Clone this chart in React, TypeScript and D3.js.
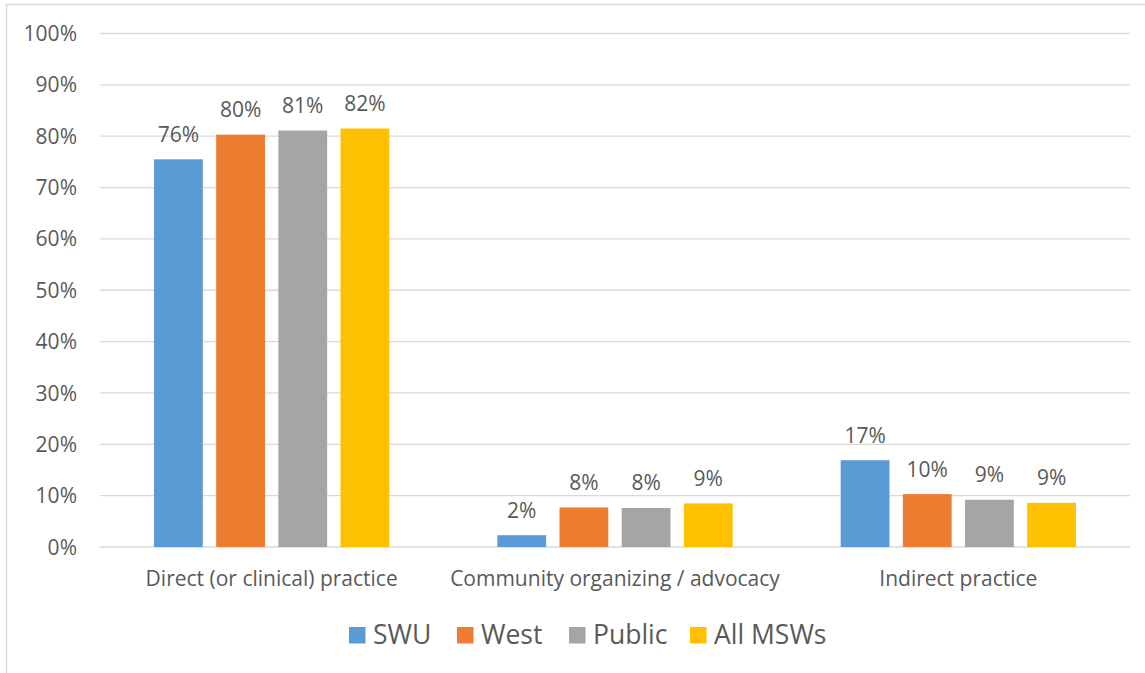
import React from "react";
import * as d3 from "d3";

const categories = ["Direct (or clinical) practice", "Community organizing / advocacy", "Indirect practice"];
const seriesNames = ["SWU", "West", "Public", "All MSWs"];
const seriesColors = ["#5B9BD5", "#ED7D31", "#A5A5A5", "#FFC000"];
const swu = [75.5, 2.3, 16.9];
const west = [80.3, 7.7, 10.3];
const pub = [81.1, 7.6, 9.2];
const allMsw = [81.5, 8.5, 8.6];
const labelsSwu = ["76%", "2%", "17%"];
const labelsWest = ["80%", "8%", "10%"];
const labelsPub = ["81%", "8%", "9%"];
const labelsAll = ["82%", "9%", "9%"];
const yTicks = [0, 10, 20, 30, 40, 50, 60, 70, 80, 90, 100];

const W = 1145, H = 673;
const FONT = "'Open Sans', 'Noto Sans', sans-serif";
const TXT = "#595959";

export default function App() {
  const left = 100, right = 1130, top = 33.5, bottom = 547;
  const x0 = d3.scaleBand().domain(categories).range([left, right]).paddingInner(0).paddingOuter(0);
  const groupInner = 54 / 343.3;
  const x1 = d3.scaleBand().domain(seriesNames)
    .range([x0.bandwidth() * groupInner, x0.bandwidth() * (1 - groupInner)])
    .paddingInner(0.215).paddingOuter(0);
  const y = d3.scaleLinear().domain([0, 100]).range([bottom, top]);
  const data = [swu, west, pub, allMsw];
  const labels = [labelsSwu, labelsWest, labelsPub, labelsAll];

  const legendX = [349, 457, 569, 690];

  return (
    <svg width={W} height={H} style={{ position: "absolute", left: 0, top: 0, background: "#fff" }} fontFamily={FONT}>
      <rect x={6.5} y={4.5} width={W + 10} height={H + 10} fill="#fff" stroke="#D9D9D9" strokeWidth={1.5} />
      {yTicks.map(t => (
        <g key={t}>
          <line x1={left} x2={right} y1={y(t)} y2={y(t)} stroke="#D9D9D9" strokeWidth={1.3} />
          <text x={77} y={y(t)} dy="0.36em" textAnchor="end" fontSize={21} fill={TXT}>{t}%</text>
        </g>
      ))}
      {categories.map((c, ci) => (
        <g key={c} transform={`translate(${x0(c)},0)`}>
          {seriesNames.map((s, si) => {
            const v = data[si][ci];
            const bx = x1(s)!;
            return (
              <g key={s}>
                <rect x={bx} y={y(v)} width={x1.bandwidth()} height={bottom - y(v)} fill={seriesColors[si]} />
                <text x={bx + x1.bandwidth() / 2} y={y(v) - 17.5} textAnchor="middle" fontSize={21} fill={TXT}>{labels[si][ci]}</text>
              </g>
            );
          })}
          <text x={x0.bandwidth() / 2} y={586} textAnchor="middle" fontSize={21} fill={TXT}>{c}</text>
        </g>
      ))}
      {seriesNames.map((s, si) => (
        <g key={s}>
          <rect x={legendX[si]} y={627} width={16.5} height={16.5} fill={seriesColors[si]} />
          <text x={legendX[si] + 24} y={644} fontSize={26.5} fill={TXT}>{s}</text>
        </g>
      ))}
    </svg>
  );
}
